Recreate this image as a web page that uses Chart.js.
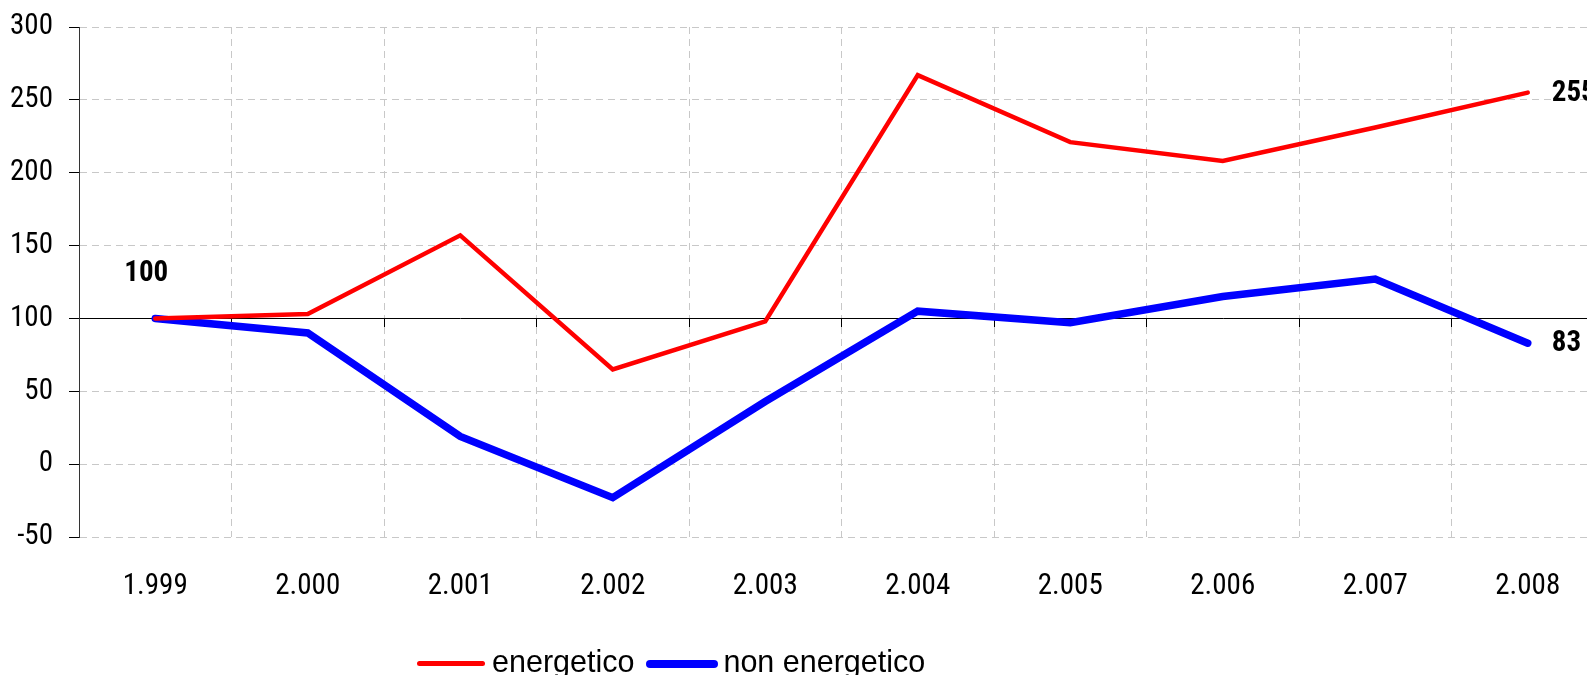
<!DOCTYPE html>
<html>
<head>
<meta charset="utf-8">
<script src="https://cdn.jsdelivr.net/npm/chart.js@4"></script>
<style>
  html, body { margin: 0; padding: 0; background: #fff; overflow: hidden; width: 1587px; height: 675px; }
  #wrap { position: absolute; left: 0; top: 0; width: 1640px; height: 675px; }
  #legend { position: absolute; left: 417px; top: 646px; height: 30px; display: flex; align-items: center;
            font-family: "Liberation Sans", Arial, sans-serif; font-size: 30.5px; line-height: 30px; color: #000; white-space: nowrap; }
  .sw { display: inline-block; border-radius: 4px; position: relative; top: 2.5px; }
  .lt { display: inline-block; }
</style>
</head>
<body>
<div id="wrap"><canvas id="c" width="1640" height="675"></canvas></div>
<div id="legend"></div>
<script>
const categories = ['1.999', '2.000', '2.001', '2.002', '2.003', '2.004', '2.005', '2.006', '2.007', '2.008'];
const energetico = [100, 103, 157, 65, 98, 267, 221, 208, 231, 255];
const nonEnergetico = [100, 90, 19, -23, 43, 105, 97, 115, 127, 83];
const seriesNames = ['energetico', 'non energetico'];
const yMin = -50, yMax = 300, yStep = 50;
const baseValue = 100;
// which points carry a value label: [datasetIndex, pointIndex]
const labelledPoints = [[0, 0], [0, 9], [1, 9]];

const NARROW = '"Liberation Sans Narrow", "Arial Narrow", "Roboto Condensed", "Liberation Sans", sans-serif';

const valueLabels = {
  id: 'valueLabels',
  afterDatasetsDraw(chart) {
    const ctx = chart.ctx;
    ctx.save();
    ctx.font = 'bold 29px ' + NARROW;
    ctx.fillStyle = '#000';
    ctx.textBaseline = 'middle';
    labelledPoints.forEach(([d, i]) => {
      const pt = chart.getDatasetMeta(d).data[i];
      const v = chart.data.datasets[d].data[i];
      if (i === 0) {
        ctx.textAlign = 'center';
        ctx.fillText(String(v), pt.x - 9, pt.y - 45);
      } else {
        ctx.textAlign = 'left';
        ctx.fillText(String(v), pt.x + 24, pt.y + 1);
      }
    });
    ctx.restore();
  }
};

const chart = new Chart(document.getElementById('c'), {
  type: 'line',
  data: {
    labels: categories,
    datasets: [
      { label: seriesNames[0], data: energetico, borderColor: '#ff0000', backgroundColor: '#ff0000',
        borderWidth: 4.5, pointRadius: 0, tension: 0, borderCapStyle: 'round', borderJoinStyle: 'miter', xAxisID: 'x', yAxisID: 'y' },
      { label: seriesNames[1], data: nonEnergetico, borderColor: '#0000ff', backgroundColor: '#0000ff',
        borderWidth: 7.5, pointRadius: 0, tension: 0, borderCapStyle: 'round', borderJoinStyle: 'miter', xAxisID: 'x', yAxisID: 'y' }
    ]
  },
  options: {
    responsive: false,
    animation: false,
    devicePixelRatio: 1,
    layout: { padding: { top: 27, right: 36, left: 0, bottom: 0 } },
    plugins: { legend: { display: false }, tooltip: { enabled: false } },
    scales: {
      x: {
        type: 'category',
        position: 'bottom',
        offset: true,
        grid: { offset: true, color: '#c8c8c8', lineWidth: 1, drawTicks: false },
        border: { display: false, dash: [7, 5] },
        ticks: { color: '#000', font: { family: NARROW, size: 29 }, padding: 32, maxRotation: 0, autoSkip: false },
        afterFit(scale) { scale.height = 138; }
      },
      x2: {
        type: 'category',
        position: { y: baseValue },
        offset: true,
        grid: { offset: true, drawOnChartArea: false, drawTicks: true, tickLength: 8, tickColor: '#000', tickBorderDash: [] },
        border: { display: true, color: '#000', width: 1 },
        ticks: { display: false }
      },
      y: {
        min: yMin, max: yMax,
        ticks: { stepSize: yStep, color: '#000', font: { family: NARROW, size: 29 }, padding: 16 },
        grid: { color: '#c8c8c8', lineWidth: 1, drawTicks: true, tickLength: 10, tickColor: '#000', tickBorderDash: [] },
        border: { display: true, color: '#333', width: 1, dash: [7, 5] },
        afterFit(scale) { scale.width = 79; scale.paddingTop = 0; scale.paddingBottom = 0; }
      }
    }
  },
  plugins: [valueLabels]
});

// HTML legend built from the chart's datasets
const leg = document.getElementById('legend');
chart.data.datasets.forEach((ds, k) => {
  const sw = document.createElement('span');
  sw.className = 'sw';
  sw.style.width = k === 0 ? '68px' : '72px';
  sw.style.height = Math.round(ds.borderWidth) + 'px';
  sw.style.background = ds.borderColor;
  sw.style.marginRight = k === 0 ? '7px' : '5px';
  const tx = document.createElement('span');
  tx.className = 'lt';
  tx.textContent = ds.label;
  tx.style.marginRight = '12px';
  leg.appendChild(sw);
  leg.appendChild(tx);
});
</script>
</body>
</html>
